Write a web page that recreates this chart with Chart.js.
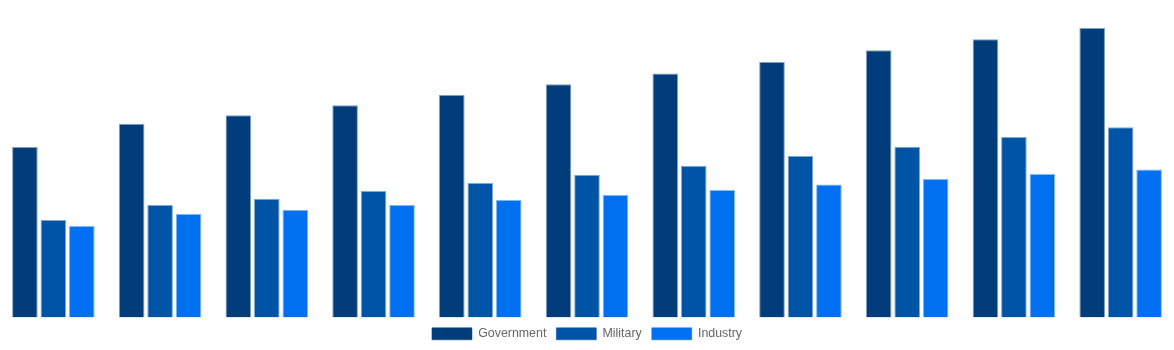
<!DOCTYPE html>
<html>
<head>
<meta charset="utf-8">
<script src="https://cdn.jsdelivr.net/npm/chart.js@4"></script>
<style>
  html, body { margin: 0; padding: 0; background: #fff; }
  #wrap { width: 1174px; height: 350px; }
</style>
</head>
<body>
<div id="wrap"><canvas id="c"></canvas></div>
<script>
const categories = ['2014','2015','2016','2017','2018','2019','2020','2021','2022','2023','2024'];
const government = [188, 213.5, 223, 234, 245.4, 257.2, 268.9, 281.8, 294.6, 306.7, 319.2];
const military   = [107.5, 124, 131, 139.4, 148.2, 157.4, 167.3, 178, 188.2, 198.9, 209.9];
const industry   = [100.9, 114.1, 118.9, 124, 129.5, 135, 140.5, 146.7, 152.7, 158.2, 163.2];

Chart.defaults.font.family = '"Liberation Sans", Arial, sans-serif';
new Chart(document.getElementById('c'), {
  type: 'bar',
  data: {
    labels: categories,
    datasets: [
      { label: 'Government', data: government, backgroundColor: '#023d7b', borderColor: 'rgba(2,61,123,0.5)', borderWidth: 1 },
      { label: 'Military', data: military, backgroundColor: '#0054a6', borderColor: 'rgba(0,84,166,0.5)', borderWidth: 1 },
      { label: 'Industry', data: industry, backgroundColor: '#006ff0', borderColor: 'rgba(0,111,240,0.5)', borderWidth: 1 }
    ]
  },
  options: {
    responsive: true,
    maintainAspectRatio: false,
    animation: false,
    layout: { padding: 0 },
    scales: {
      x: { display: false },
      y: { display: false, min: 0, max: 350 }
    },
    plugins: {
      legend: {
        position: 'bottom',
        labels: { color: '#666', font: { size: 12.4 }, boxWidth: 40, boxHeight: 12 }
      },
      tooltip: { enabled: false }
    }
  }
});
</script>
</body>
</html>
